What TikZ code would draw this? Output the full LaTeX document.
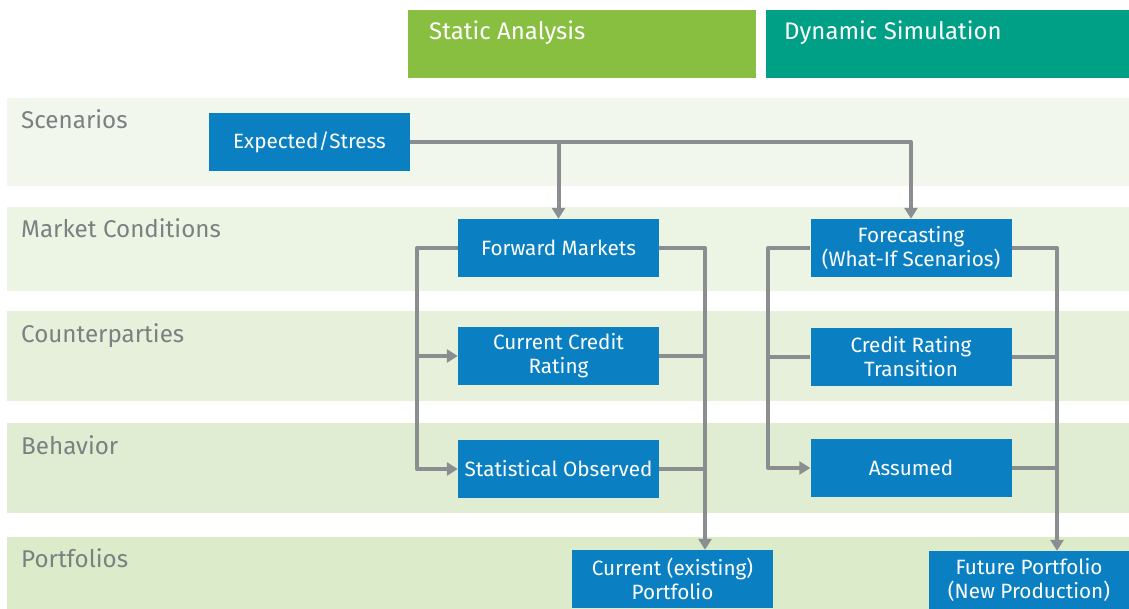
\documentclass[tikz,border=0pt]{standalone}
\usepackage{fontspec}
\setmainfont{Fira Sans}
\usetikzlibrary{arrows.meta}
\definecolor{boxblue}{HTML}{0A80C2}
\definecolor{linegray}{HTML}{8A8E90}
\definecolor{hdrgreen}{HTML}{88BF40}
\definecolor{hdrteal}{HTML}{00A086}
\definecolor{lblgray}{HTML}{7B8082}
\definecolor{bandA}{HTML}{F1F7EC}
\definecolor{bandB}{HTML}{ECF5E4}
\definecolor{bandC}{HTML}{E6F0DA}
\definecolor{bandD}{HTML}{E1EDD2}
\definecolor{bandE}{HTML}{DCEBCA}
\tikzset{
  bx/.style={fill=boxblue, text=white, minimum width=201pt, minimum height=58pt, inner sep=0pt, align=center,
    font=\fontsize{20.7}{24}\selectfont},
  lbl/.style={anchor=base west, text=lblgray, inner sep=0pt, font=\fontsize{24.2}{28}\selectfont},
  hdr/.style={anchor=base west, text=white, inner sep=0pt, font=\fontsize{24}{28}\selectfont},
  conn/.style={draw=linegray, line width=4pt, line join=round},
  arr/.style={conn, -{Triangle[width=13pt,length=11pt]}},
}
\begin{document}
\begin{tikzpicture}[x=1pt,y=-1pt]
\useasboundingbox (0,0) rectangle (1129,609);
\clip (0,0) rectangle (1129,609);
% headers
\fill[hdrgreen] (408,10) rectangle (756,78);
\fill[hdrteal] (766,10) rectangle (1129,78);
\node[hdr] (hs) at (429,40) {Static Analysis};
\node[hdr] (hd) at (784,40) {Dynamic Simulation};
% bands
\fill[bandA] (7,98) rectangle (1129,186);
\fill[bandB] (7,207) rectangle (1129,291);
\fill[bandC] (7,311) rectangle (1129,401);
\fill[bandD] (7,423) rectangle (1129,513);
\fill[bandE] (7,537) rectangle (1129,612);
\node[lbl] (l1) at (21,129) {Scenarios};
\node[lbl] (l2) at (21,238) {Market Conditions};
\node[lbl] (l3) at (21,342) {Counterparties};
\node[lbl] (l4) at (21,454) {Behavior};
\node[lbl] (l5) at (21,567) {Portfolios};
% boxes
\node[bx] (exp) at (309.5,142) {Expected/Stress};
\node[bx] (fwd) at (558.5,248) {Forward Markets};
\node[bx] (ccr) at (558.5,356) {Current Credit\\Rating};
\node[bx] (stat) at (558.5,469) {Statistical Observed};
\node[bx] (cur) at (672.5,579) {Current (existing)\\Portfolio};
\node[bx] (fore) at (911,248) {Forecasting\\(What-If Scenarios)};
\node[bx] (crt) at (911,357) {Credit Rating\\Transition};
\node[bx] (ass) at (911,468) {Assumed};
\node[bx, minimum width=200pt] (fut) at (1029,580) {Future Portfolio\\(New Production)};
% rails
\coordinate (lx) at (417,0);
\coordinate (rx) at (705,0);
\coordinate (lx2) at (768,0);
\coordinate (rx2) at (1057,0);
% connectors
\draw[arr] (exp.east) -- (exp.east -| fore.north) -- (fore.north);
\draw[arr] (exp.east -| fwd.north) -- (fwd.north);
\draw[arr] (fwd.west) -- (fwd.west -| lx) |- (stat.west);
\draw[arr] (ccr.west -| lx) -- (ccr.west);
\draw[arr] (fwd.east) -- (fwd.east -| rx) -- (rx |- cur.north);
\draw[conn] (ccr.east) -- (ccr.east -| rx);
\draw[conn] (stat.east) -- (stat.east -| rx);
\draw[arr] (fore.west) -- (fore.west -| lx2) |- (ass.west);
\draw[conn] (crt.west -| lx2) -- (crt.west);
\draw[arr] (fore.east) -- (fore.east -| rx2) -- (rx2 |- fut.north);
\draw[conn] (crt.east) -- (crt.east -| rx2);
\draw[conn] (ass.east) -- (ass.east -| rx2);
\end{tikzpicture}
\end{document}
